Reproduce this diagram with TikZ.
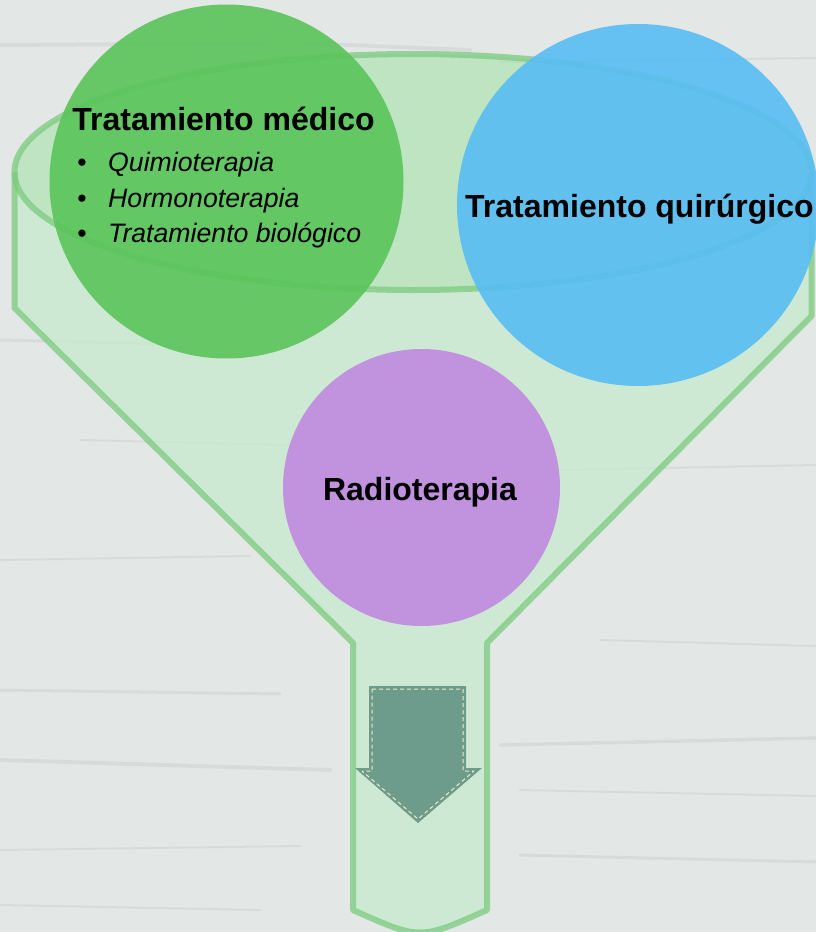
\documentclass[tikz,border=0pt]{standalone}
\usepackage{fontspec}
\setmainfont{Liberation Sans}
\definecolor{bgcol}{HTML}{E3E7E6}
\definecolor{streak}{HTML}{A9ADAC}
\definecolor{bodygreen}{HTML}{C6EBCB}
\definecolor{ellgreen}{HTML}{A6E2AA}
\definecolor{linegreen}{HTML}{7CCB7E}
\definecolor{circgreen}{HTML}{5AC45A}
\definecolor{circblue}{HTML}{58BDF3}
\definecolor{circpurple}{HTML}{C089E0}
\definecolor{arrowfill}{HTML}{6E9C8C}
\definecolor{stitch}{HTML}{F1E6C3}
\tikzset{
  streakline/.style={draw=streak, line cap=round},
  funnelline/.style={draw=linegreen, draw opacity=0.75, line width=6pt, line join=round},
  bubble/.style={circle, inner sep=0pt, minimum size=#1, fill opacity=0.9, text opacity=1},
  bold32/.style={font=\fontsize{32}{38}\selectfont\bfseries, inner sep=0pt, text=black},
  ital27/.style={font=\fontsize{26.67}{32}\selectfont\itshape, inner sep=0pt, text=black},
  bul/.style={font=\fontsize{26.67}{32}\selectfont, inner sep=0pt, text=black},
}
\begin{document}
\begin{tikzpicture}[x=1pt,y=-1pt]
\useasboundingbox (0,0) rectangle (816,932);
% background
\fill[bgcol] (0,0) rectangle (816,932);
% faint wood streaks
\begin{scope}[opacity=0.2]
\draw[streakline, line width=4pt] (0,45) -- (300,43) -- (470,50);
\draw[streakline, line width=2pt] (500,62) -- (816,58);
\draw[streakline, line width=3pt] (0,340) -- (260,346);
\draw[streakline, line width=2pt] (80,440) -- (330,446);
\draw[streakline, line width=2pt] (560,470) -- (816,465);
\draw[streakline, line width=2pt] (0,560) -- (250,556);
\draw[streakline, line width=2pt] (600,640) -- (816,646);
\draw[streakline, line width=3pt] (0,690) -- (280,694);
\draw[streakline, line width=4pt] (0,760) -- (330,770);
\draw[streakline, line width=3.5pt] (500,745) -- (816,738);
\draw[streakline, line width=2pt] (520,790) -- (816,796);
\draw[streakline, line width=2pt] (0,850) -- (300,846);
\draw[streakline, line width=3pt] (520,855) -- (816,862);
\draw[streakline, line width=2pt] (0,905) -- (260,910);
\end{scope}
% funnel fills
\coordinate (er) at (811.5,172);
\coordinate (el) at (14.5,172);
\fill[bodygreen, fill opacity=0.7]
  (er) -- (811.5,316) -- (487,643) -- (487,910) .. controls (420,940) .. (353,910)
  -- (353,643) -- (14.5,308) -- (el)
  arc[start angle=180, end angle=0, x radius=398.5, y radius=118] -- cycle;
\fill[ellgreen, fill opacity=0.6] (413,172) ellipse[x radius=398.5, y radius=118];
% funnel outline
\draw[funnelline] (er) -- (811.5,316) -- (487,643) -- (487,910) .. controls (420,940) .. (353,910)
  -- (353,643) -- (14.5,308) -- (el);
\draw[funnelline] (413,172) ellipse[x radius=398.5, y radius=118];
% circles
\node[bubble=354pt, fill=circgreen] (med) at (226.5,181.5) {};
\node[bubble=362pt, fill=circblue] (quir) at (638,205) {};
\node[bubble=277pt, fill=circpurple] (radio) at (421.5,487.5) {};
% texts
\node[bold32, anchor=base] (tmed) at (223.5,130) {Tratamiento médico};
\node[bul, anchor=base] (b1) at (82,171) {•};
\node[bul, anchor=base] (b2) at (82,207) {•};
\node[bul, anchor=base] (b3) at (82,242) {•};
\node[ital27, anchor=base west] (q) at (108,171) {Quimioterapia};
\node[ital27, anchor=base west] (h) at (108,207) {Hormonoterapia};
\node[ital27, anchor=base west] (tb) at (108,242) {Tratamiento biológico};
\node[bold32, anchor=base west] (tq) at (465,217) {Tratamiento quirúrgico};
\node[bold32, anchor=base] (tr) at (420,500) {Radioterapia};
% arrow
\fill[arrowfill] (369,686) -- (466,686) -- (466,768) -- (482,768) -- (418,823)
  -- (355,768) -- (369,768) -- cycle;
\draw[stitch, line width=1pt, dash pattern=on 4pt off 3pt, line join=round]
  (372,689) -- (463,689) -- (463,771) -- (474,771) -- (418,819)
  -- (362,771) -- (372,771) -- cycle;
\end{tikzpicture}
\end{document}
